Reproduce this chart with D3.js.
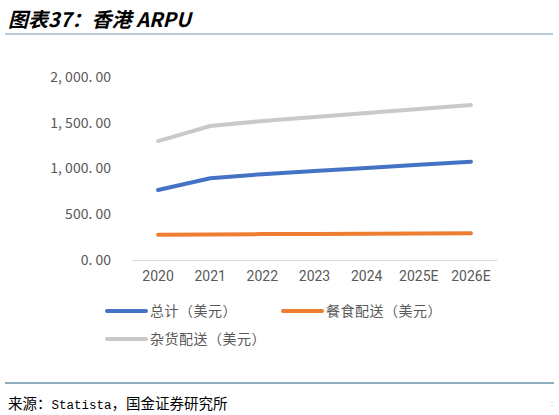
<!DOCTYPE html>
<html>
<head>
<meta charset="utf-8">
<script src="https://cdn.jsdelivr.net/npm/d3@7"></script>
<style>
  body { margin: 0; background: #fff; }
  svg { display: block; }
</style>
</head>
<body>
<svg id="chart"></svg>
<script>
// data
var years = ["2020", "2021", "2022", "2023", "2024", "2025E", "2026E"]
var totalArpu = [765, 893, 938, 972, 1006, 1040, 1074]
var foodArpu = [277, 280, 283, 285, 287, 289, 291]
var groceryArpu = [1300, 1464, 1519, 1563, 1607, 1650, 1694]
var yTicks = [0, 500, 1000, 1500, 2000]
var seriesNames = ["总计（美元）", "餐食配送（美元）", "杂货配送（美元）"]
var seriesColors = ["#4472c4", "#ed7d31", "#c9c9c9"]

var width = 559, height = 415
var cjk = "'Noto Sans CJK SC', 'DejaVu Sans', sans-serif"

var svg = d3.select("#chart")
        .attr("width", width)
        .attr("height", height)

// title
svg.append("text")
        .attr("x", 8)
        .attr("y", 27)
        .style("font-family", cjk)
        .style("font-size", "20px")
        .style("font-weight", "bold")
        .style("font-style", "italic")
        .attr("fill", "#000")
        .text("图表37：香港 ARPU")

svg.append("line")
        .attr("x1", 5).attr("x2", 553)
        .attr("y1", 34).attr("y2", 34)
        .attr("stroke", "#bccbd7")
        .attr("stroke-width", 2)

// scales
var xScale = d3.scaleBand()
        .domain(years)
        .range([132, 497])

var yScale = d3.scaleLinear()
        .domain([0, 2000])
        .range([260, 77])

var fmt = d3.format(",.2f")

// y axis labels (no axis line)
var yAxis = svg.append("g")
        .attr("transform", "translate(111,0)")
        .call(d3.axisLeft(yScale).tickValues(yTicks).tickSize(0).tickPadding(0)
              .tickFormat(d => fmt(d).replace(",", ", ").replace(".", ". ")))
yAxis.select(".domain").remove()
yAxis.selectAll("text")
        .style("font-family", cjk)
        .style("font-size", "14px")
        .attr("fill", "#595959")

// x axis
var xAxis = svg.append("g")
        .attr("transform", "translate(0,260)")
        .call(d3.axisBottom(xScale).tickSize(0).tickPadding(11))
xAxis.select(".domain").attr("stroke", "#d9d9d9").attr("stroke-width", 1)
xAxis.selectAll("text")
        .style("font-family", "Roboto, 'Noto Sans', sans-serif")
        .style("font-size", "14px")
        .attr("fill", "#595959")

// lines
var allSeries = [totalArpu, foodArpu, groceryArpu]
var line = d3.line()
        .x((d, i) => xScale(years[i]) + xScale.bandwidth() / 2)
        .y(d => yScale(d))

svg.selectAll(".series")
        .data(allSeries)
        .enter()
        .append("path")
        .attr("class", "series")
        .attr("fill", "none")
        .attr("stroke", (d, i) => seriesColors[i])
        .attr("stroke-width", 4)
        .attr("stroke-linecap", "round")
        .attr("stroke-linejoin", "round")
        .attr("d", line)

// legend
var legendPos = [[105, 311], [281, 311], [105, 339]]
var legend = svg.selectAll(".legend")
        .data(seriesNames)
        .enter()
        .append("g")
        .attr("class", "legend")
        .attr("transform", (d, i) => "translate(" + legendPos[i][0] + "," + legendPos[i][1] + ")")

legend.append("line")
        .attr("x1", 2).attr("x2", 41)
        .attr("y1", 0).attr("y2", 0)
        .attr("stroke", (d, i) => seriesColors[i])
        .attr("stroke-width", 4)
        .attr("stroke-linecap", "round")

legend.append("text")
        .attr("x", 45)
        .attr("y", 5)
        .style("font-family", cjk)
        .style("font-size", "14px")
        .style("letter-spacing", "0.5px")
        .attr("fill", "#595959")
        .text(d => d)

// footer
svg.append("line")
        .attr("x1", 5).attr("x2", 554)
        .attr("y1", 383).attr("y2", 383)
        .attr("stroke", "#6a93ab")
        .attr("stroke-width", 1.5)

var footer = svg.append("text")
        .attr("x", 8)
        .attr("y", 409)
        .style("font-family", cjk)
        .style("font-size", "14.5px")
        .attr("fill", "#000")
footer.append("tspan").text("来源：")
footer.append("tspan")
        .style("font-family", "'Liberation Mono', monospace")
        .style("font-size", "12.5px")
        .text("Statista")
footer.append("tspan").text("，国金证券研究所")

svg.append("text")
        .attr("x", 551)
        .attr("y", 406)
        .style("font-family", cjk)
        .style("font-size", "7px")
        .attr("fill", "#999")
        .text(":")
</script>
</body>
</html>
